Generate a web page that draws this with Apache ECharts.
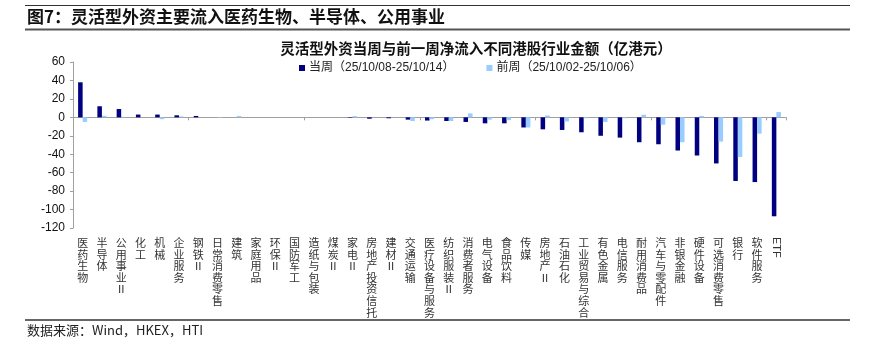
<!DOCTYPE html>
<html>
<head>
<meta charset="utf-8">
<script src="https://cdn.jsdelivr.net/npm/echarts@6/dist/echarts.min.js"></script>
<style>
html,body{margin:0;padding:0;background:#fff;}
#c{width:874px;height:350px;}
</style>
</head>
<body>
<div id="c"></div>
<script>
var categories = ['医药生物','半导体','公用事业Ⅱ','化工','机械','企业服务','钢铁Ⅱ','日常消费零售','建筑','家庭用品','环保Ⅱ','国防军工','造纸与包装','煤炭Ⅱ','家电Ⅱ','房地产投资信托','建材Ⅱ','交通运输','医疗设备与服务','纺织服装Ⅱ','消费者服务','电气设备','食品饮料','传媒','房地产Ⅱ','石油石化','工业贸易与综合','有色金属','电信服务','耐用消费品','汽车与零配件','非银金融','硬件设备','可选消费零售','银行','软件服务','ETF'];
var currentWeek = [38, 12, 9, 3, 3, 2.2, 1.5, 0, 0, 0, 0, 0, 0, 0, -0.5, -1.5, -1, -2.5, -3.5, -4, -5, -6.5, -6.5, -11, -13, -13.7, -16.2, -20, -22, -27, -29.2, -36, -41.4, -50, -69, -70.2, -107.3];
var previousWeek = [-5, 1.7, 0.5, 0, -2, 1, 0, -0.5, 1.5, 0, 0, 0, 0, 0, 1.3, 0, 0, -4, -2, -4, 4.3, -2.5, -3, -11, 2, -4.5, -1, -5, -1, 2.8, -8, -27, 1.5, -26.3, -42.9, -17.7, 5.7];
var seriesNames = ['当周（25/10/08-25/10/14）', '前周（25/10/02-25/10/06）'];
var yMin = -120, yMax = 60, yInterval = 20;

var cjk = '"Noto Sans CJK SC", sans-serif';
var latin = '"Liberation Sans", Arial, "Noto Sans CJK SC", sans-serif';

var chart = echarts.init(document.getElementById('c'), null, {renderer: 'canvas'});
chart.setOption({
  backgroundColor: '#fff',
  animation: false,
  title: {
    text: '灵活型外资当周与前一周净流入不同港股行业金额（亿港元）',
    left: 471, top: 36, textAlign: 'center',
    textStyle: {fontFamily: cjk, fontSize: 14.5, fontWeight: 'bold', color: '#111'}
  },
  legend: {
    left: 294, top: 57,
    itemWidth: 6, itemHeight: 6, itemGap: 32,
    icon: 'rect',
    textStyle: {fontFamily: latin, fontSize: 12, color: '#222', padding: [0,0,0,-1]},
    data: seriesNames
  },
  grid: {left: 73, right: 88, top: 62, bottom: 122, containLabel: false},
  xAxis: [
    {
      type: 'category', data: categories, gridIndex: 0,
      axisLine: {onZero: true, lineStyle: {color: '#a0a0a0', width: 1}},
      axisTick: {show: true, length: 3, lineStyle: {color: '#a0a0a0'}},
      axisLabel: {show: false},
      splitLine: {show: false}
    },
    {
      type: 'category', data: categories, gridIndex: 0, position: 'bottom',
      axisLine: {show: false, onZero: false}, axisTick: {show: false},
      axisLabel: {
        interval: 0, margin: 9, fontFamily: cjk, fontSize: 11, lineHeight: 11.6, color: '#333',
        verticalAlign: 'top',
        formatter: function (v) { return v === 'ETF' ? '' : v.split('').join('\n'); }
      }
    },
    {
      type: 'category', data: categories, gridIndex: 0, position: 'bottom',
      axisLine: {show: false, onZero: false}, axisTick: {show: false},
      axisLabel: {
        interval: 0, margin: 9, rotate: -90, fontFamily: latin, fontSize: 11, color: '#333',
        formatter: function (v) { return v === 'ETF' ? v : ''; }
      }
    }
  ],
  yAxis: {
    type: 'value', min: yMin, max: yMax, interval: yInterval,
    axisLine: {show: true, lineStyle: {color: '#a0a0a0'}},
    axisTick: {show: true, inside: false, length: 3, lineStyle: {color: '#a0a0a0'}},
    axisLabel: {fontFamily: latin, fontSize: 12, color: '#111', margin: 8},
    splitLine: {show: false}
  },
  series: [
    {name: seriesNames[0], type: 'bar', xAxisIndex: 0, data: currentWeek,
     itemStyle: {color: '#000080'}, barGap: '0%', barCategoryGap: '53%'},
    {name: seriesNames[1], type: 'bar', xAxisIndex: 0, data: previousWeek,
     itemStyle: {color: '#99ccff'}, barGap: '0%', barCategoryGap: '53%'}
  ],
  graphic: [
    {type: 'line', shape: {x1: 25, y1: 5.5, x2: 850, y2: 5.5}, style: {stroke: '#333', lineWidth: 1}},
    {type: 'text', left: 27, top: 8, style: {text: '图7：灵活型外资主要流入医药生物、半导体、公用事业', fontFamily: cjk, fontSize: 17, fontWeight: 'bold', fill: '#111'}},
    {type: 'line', shape: {x1: 25, y1: 29.5, x2: 850, y2: 29.5}, style: {stroke: '#555', lineWidth: 2}},
    {type: 'line', shape: {x1: 25, y1: 320, x2: 850, y2: 320}, style: {stroke: '#666', lineWidth: 2}},
    {type: 'text', left: 27, top: 324, style: {text: '数据来源：Wind，HKEX，HTI', fontFamily: cjk, fontSize: 13, fill: '#222'}}
  ]
});
</script>
</body>
</html>
